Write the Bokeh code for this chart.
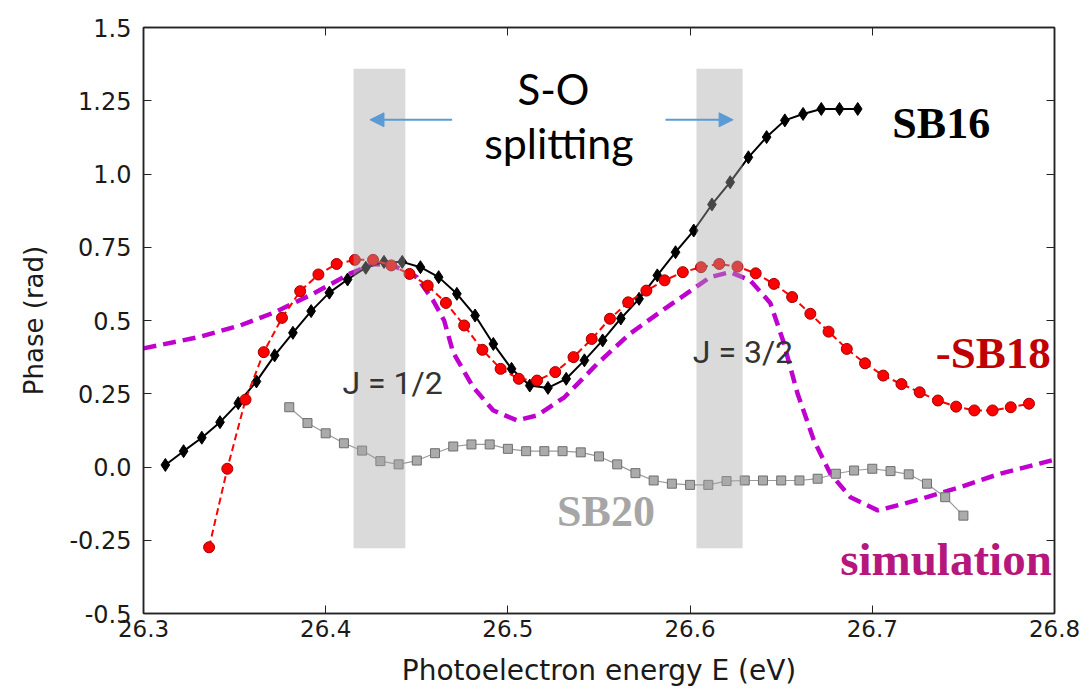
from bokeh.plotting import figure
from bokeh.models import Range1d, LinearAxis, FixedTicker, BoxAnnotation, Label, Arrow, NormalHead
from bokeh.embed import file_html
from bokeh.resources import INLINE

# ---------------- data ----------------
sb16_x = [26.312, 26.322, 26.332, 26.342, 26.352, 26.362, 26.372, 26.382, 26.392, 26.402,
          26.412, 26.422, 26.432, 26.442, 26.452, 26.462, 26.472, 26.482, 26.492, 26.502,
          26.512, 26.522, 26.532, 26.542, 26.552, 26.562, 26.572, 26.582, 26.592, 26.602,
          26.612, 26.622, 26.632, 26.642, 26.652, 26.662, 26.672, 26.682, 26.692]
sb16_y = [0.007, 0.054, 0.100, 0.153, 0.218, 0.292, 0.381, 0.458, 0.532, 0.595,
          0.640, 0.680, 0.700, 0.700, 0.682, 0.648, 0.591, 0.517, 0.420, 0.335,
          0.278, 0.270, 0.301, 0.364, 0.432, 0.507, 0.574, 0.654, 0.733, 0.807,
          0.896, 0.972, 1.057, 1.126, 1.183, 1.205, 1.222, 1.222, 1.222]

sb18_x = [26.336, 26.346, 26.356, 26.366, 26.376, 26.386, 26.396, 26.406, 26.416, 26.426,
          26.436, 26.446, 26.456, 26.466, 26.476, 26.486, 26.496, 26.506, 26.516, 26.526,
          26.536, 26.546, 26.556, 26.566, 26.576, 26.586, 26.596, 26.606, 26.616, 26.626,
          26.636, 26.646, 26.656, 26.666, 26.676, 26.686, 26.696, 26.706, 26.716, 26.726,
          26.736, 26.746, 26.756, 26.766, 26.776, 26.786]
sb18_y = [-0.274, -0.006, 0.230, 0.392, 0.509, 0.600, 0.657, 0.693, 0.707, 0.707,
          0.688, 0.659, 0.619, 0.560, 0.483, 0.400, 0.335, 0.301, 0.295, 0.324,
          0.375, 0.437, 0.506, 0.562, 0.602, 0.637, 0.665, 0.682, 0.693, 0.684,
          0.661, 0.625, 0.580, 0.523, 0.462, 0.403, 0.354, 0.312, 0.283, 0.255,
          0.227, 0.206, 0.193, 0.193, 0.204, 0.216]

sb20_x = [26.380, 26.390, 26.400, 26.410, 26.420, 26.430, 26.440, 26.450, 26.460, 26.470,
          26.480, 26.490, 26.500, 26.510, 26.520, 26.530, 26.540, 26.550, 26.560, 26.570,
          26.580, 26.590, 26.600, 26.610, 26.620, 26.630, 26.640, 26.650, 26.660, 26.670,
          26.680, 26.690, 26.700, 26.710, 26.720, 26.730, 26.740, 26.750]
sb20_y = [0.204, 0.150, 0.115, 0.081, 0.056, 0.020, 0.009, 0.022, 0.047, 0.070,
          0.077, 0.077, 0.062, 0.054, 0.054, 0.054, 0.050, 0.036, 0.009, -0.021,
          -0.046, -0.057, -0.061, -0.061, -0.048, -0.046, -0.046, -0.046, -0.046, -0.040,
          -0.023, -0.012, -0.006, -0.014, -0.025, -0.057, -0.103, -0.166]

sim_x = [26.300, 26.330, 26.353, 26.372, 26.393, 26.413, 26.426, 26.437, 26.450, 26.459,
         26.465, 26.470, 26.481, 26.492, 26.505, 26.516, 26.531, 26.549, 26.567, 26.586,
         26.600, 26.611, 26.622, 26.633, 26.644, 26.651, 26.659, 26.668, 26.677, 26.688,
         26.703, 26.717, 26.730, 26.748, 26.770, 26.790, 26.800]
sim_y = [0.405, 0.443, 0.483, 0.528, 0.591, 0.659, 0.693, 0.688, 0.648, 0.568,
         0.500, 0.390, 0.272, 0.193, 0.159, 0.176, 0.238, 0.352, 0.455, 0.540,
         0.600, 0.648, 0.665, 0.637, 0.560, 0.432, 0.250, 0.090, -0.023, -0.103,
         -0.148, -0.126, -0.103, -0.069, -0.023, 0.009, 0.025]

x_ticks = [26.3, 26.4, 26.5, 26.6, 26.7, 26.8]
y_ticks = [-0.5, -0.25, 0.0, 0.25, 0.5, 0.75, 1.0, 1.25, 1.5]
y_tick_labels = ["-0.5", "-0.25", "0.0", "0.25", "0.5", "0.75", "1.0", "1.25", "1.5"]

# J bands (energy windows) and their vertical extent
band_left = [26.4153, 26.6035]
band_right = [26.4437, 26.6288]
band_bottom = -0.277
band_top = 1.359

# ---------------- figure ----------------
p = figure(width=1089, height=692, output_backend="svg", toolbar_location=None,
           x_range=Range1d(26.3, 26.8), y_range=Range1d(-0.5, 1.5),
           min_border_left=143, min_border_right=35, min_border_top=27, min_border_bottom=79,
           x_axis_label="Photoelectron energy E (eV)", y_axis_label="Phase (rad)")
p.grid.visible = False
p.outline_line_color = "#222222"
p.outline_line_width = 1.5
p.background_fill_color = "white"
p.border_fill_color = "white"

tick_font = "DejaVu Sans"
for ax in (p.xaxis[0], p.yaxis[0]):
    ax.major_tick_in = 8
    ax.major_tick_out = 0
    ax.minor_tick_line_color = None
    ax.axis_line_color = "#222222"
    ax.axis_line_width = 1.5
    ax.major_tick_line_color = "#222222"
    ax.major_label_text_font = tick_font
    ax.major_label_text_color = "#1a1a1a"
    ax.axis_label_text_font = tick_font
    ax.axis_label_text_font_style = "normal"
    ax.axis_label_text_color = "#1a1a1a"

p.xaxis[0].ticker = FixedTicker(ticks=x_ticks)
p.xaxis[0].major_label_overrides = {t: f"{t:.1f}" for t in x_ticks}
p.xaxis[0].major_label_text_font_size = "23px"
p.xaxis[0].major_label_standoff = 6
p.xaxis[0].axis_label_text_font_size = "28px"
p.xaxis[0].axis_label_standoff = 14
p.yaxis[0].ticker = FixedTicker(ticks=y_ticks)
p.yaxis[0].major_label_overrides = dict(zip(y_ticks, y_tick_labels))
p.yaxis[0].major_label_text_font_size = "24px"
p.yaxis[0].major_label_standoff = 12
p.yaxis[0].axis_label_text_font_size = "26px"
p.yaxis[0].axis_label_standoff = 17

for side in ("above", "right"):
    ticks = x_ticks if side == "above" else y_ticks
    ax = LinearAxis(ticker=FixedTicker(ticks=ticks),
                    major_label_overrides={t: "" for t in ticks},
                    major_tick_in=8, major_tick_out=0, minor_tick_line_color=None,
                    major_label_text_font_size="10px", major_label_text_color=None,
                    axis_line_color="#222222", axis_line_width=1.5,
                    major_tick_line_color="#222222", major_label_standoff=0)
    p.add_layout(ax, side)

# ---------------- series ----------------
p.line(sim_x, sim_y, line_color="#bf00cf", line_width=4.5, line_dash="13 7")

p.line(sb20_x, sb20_y, line_color="#9a9a9a", line_width=1.2)
p.scatter(sb20_x, sb20_y, marker="square", size=9, fill_color="#ababab",
          line_color="#6e6e6e", line_width=1)

p.line(sb16_x, sb16_y, line_color="black", line_width=2)
p.scatter(sb16_x, sb16_y, marker="diamond", size=13, fill_color="black", line_color="black")

p.line(sb18_x, sb18_y, line_color="#ff0000", line_width=2, line_dash="7 4")
p.scatter(sb18_x, sb18_y, marker="circle", size=11, fill_color="#ff0000",
          line_color="#a00000", line_width=1)

# ---------------- annotations ----------------
for l, r in zip(band_left, band_right):
    p.add_layout(BoxAnnotation(left=l, right=r, bottom=band_bottom, top=band_top,
                               fill_color="#a6a6a8", fill_alpha=0.42, line_color=None))

blue = "#5b9bd5"
p.add_layout(Arrow(end=NormalHead(size=14, fill_color=blue, line_color=blue),
                   x_start=26.4694, y_start=1.185, x_end=26.4243, y_end=1.185,
                   line_color=blue, line_width=2))
p.add_layout(Arrow(end=NormalHead(size=14, fill_color=blue, line_color=blue),
                   x_start=26.5865, y_start=1.185, x_end=26.6236, y_end=1.185,
                   line_color=blue, line_width=2))

DY = 0.049  # baseline correction (about 14 px)

def lab(x, y, text, font, size, color, align="left", style="normal"):
    p.add_layout(Label(x=x, y=y + DY, text=text, text_font=font, text_font_size=size,
                       text_color=color, text_align=align, text_baseline="alphabetic",
                       text_font_style=style))

lab(26.525, 1.241, "S-O", "Lato", "42px", "black", "center")
lab(26.528, 1.057, "splitting", "Lato", "43px", "black", "center")
lab(26.4092, 0.237, "J = 1/2", "Roboto", "32px", "#333333")
lab(26.6015, 0.345, "J = 3/2", "Roboto", "32px", "#333333")
lab(26.711, 1.125, "SB16", "Liberation Serif", "44px", "black", style="bold")
lab(26.798, 0.340, "-SB18", "Liberation Serif", "45px", "#c00000", "right", "bold")
lab(26.527, -0.200, "SB20", "Liberation Serif", "44px", "#a6a6a6", style="bold")
lab(26.7985, -0.364, "simulation", "Liberation Serif", "47px", "#b5177c", "right", "bold")

open("out.html", "w").write(file_html(p, INLINE))
